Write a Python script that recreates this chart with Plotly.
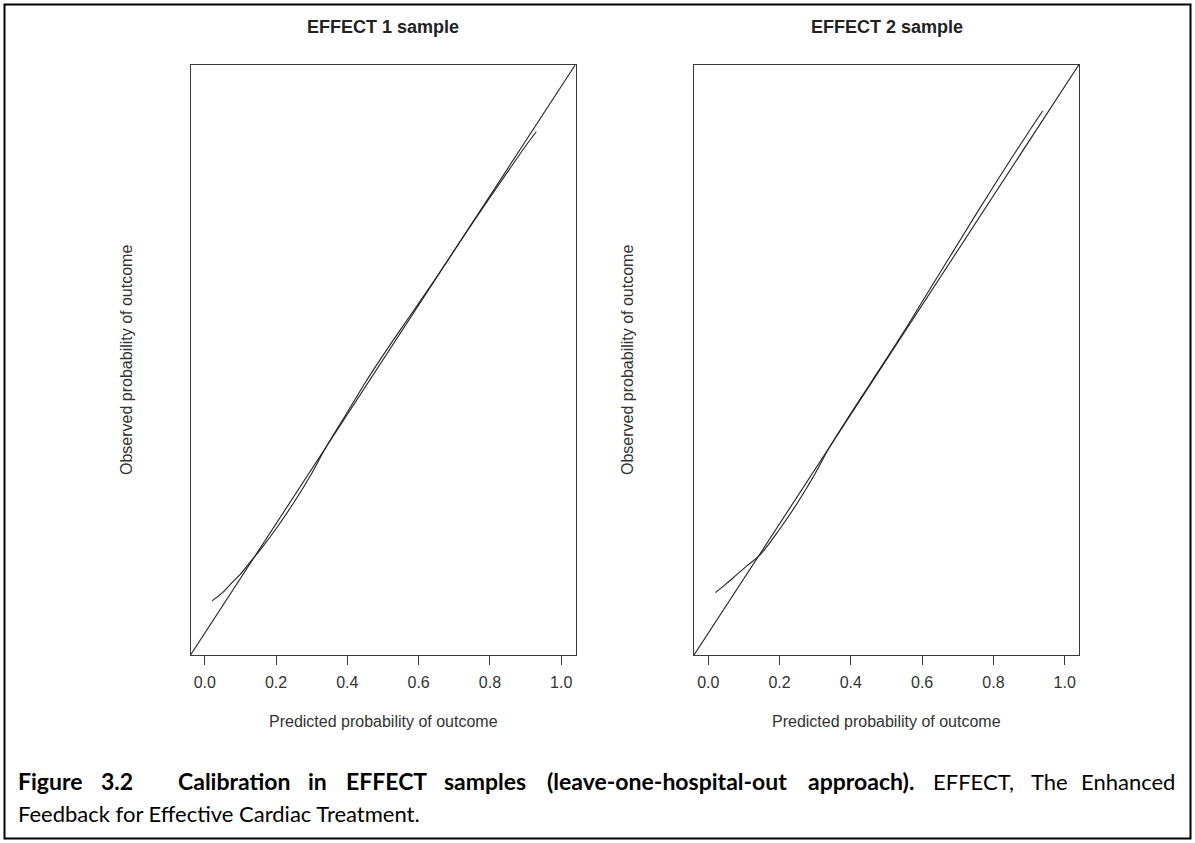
import plotly.graph_objects as go

# ---- data ----
panel_titles = ["EFFECT 1 sample", "EFFECT 2 sample"]
x_title = "Predicted probability of outcome"
y_title = "Observed probability of outcome"
tick_vals = [0.0, 0.2, 0.4, 0.6, 0.8, 1.0]
tick_text = ["0.0", "0.2", "0.4", "0.6", "0.8", "1.0"]

ref_line = [-0.04, 1.04]

pred1 = [0.02, 0.05, 0.07, 0.10, 0.13, 0.16, 0.20, 0.25, 0.30, 0.34, 0.40, 0.45, 0.50,
         0.55, 0.60, 0.65, 0.70, 0.75, 0.80, 0.85, 0.90, 0.93]
obs1 = [0.059, 0.074, 0.088, 0.108, 0.132, 0.156, 0.191, 0.239, 0.292, 0.340, 0.404, 0.458, 0.508,
        0.556, 0.603, 0.651, 0.700, 0.749, 0.797, 0.844, 0.891, 0.917]

pred2 = [0.02, 0.05, 0.08, 0.11, 0.145, 0.20, 0.25, 0.30, 0.34, 0.40, 0.45, 0.50,
         0.55, 0.60, 0.65, 0.70, 0.75, 0.80, 0.85, 0.90, 0.938]
obs2 = [0.074, 0.090, 0.107, 0.124, 0.143, 0.190, 0.238, 0.292, 0.340, 0.402, 0.452, 0.502,
        0.553, 0.606, 0.659, 0.712, 0.765, 0.817, 0.868, 0.918, 0.955]

caption_bold_words = ["Figure", "3.2", "Calibration", "in", "EFFECT", "samples",
                      "(leave-one-hospital-out", "approach)."]
caption_normal_words = ["EFFECT,", "The", "Enhanced"]
caption_line2 = "Feedback for Effective Cardiac Treatment."

W, H = 1195, 843

def px(x):
    return x / W

def py(y):
    return 1 - y / H

x_domains = [[px(190.5), px(575.5)], [px(694), px(1079)]]
y_domain = [py(655), py(64.5)]

fig = go.Figure()
line_col = "#222222"
box_col = "#3a3a3a"

curves = [(pred1, obs1), (pred2, obs2)]
for i, (pr, ob) in enumerate(curves):
    xa = "x" if i == 0 else "x2"
    ya = "y" if i == 0 else "y2"
    fig.add_trace(go.Scatter(x=ref_line, y=ref_line, mode="lines",
                             line=dict(color=line_col, width=1.1),
                             xaxis=xa, yaxis=ya, showlegend=False, hoverinfo="skip"))
    fig.add_trace(go.Scatter(x=pr, y=ob, mode="lines", line_shape="spline",
                             line=dict(color=line_col, width=1.1),
                             xaxis=xa, yaxis=ya, showlegend=False))

axis_common = dict(range=[-0.04, 1.04], showgrid=False, zeroline=False,
                   showline=True, mirror=True, linecolor=box_col, linewidth=1.2)
for i in range(2):
    suffix = "" if i == 0 else "2"
    fig.update_layout(**{
        "xaxis" + suffix: dict(axis_common, domain=x_domains[i], anchor="y" + suffix,
                               ticks="outside", ticklen=9, tickwidth=1.2, tickcolor=box_col,
                               tickvals=tick_vals, ticktext=tick_text,
                               ticklabelstandoff=4,
                               tickfont=dict(family="Liberation Sans", size=16, color="#333333")),
        "yaxis" + suffix: dict(axis_common, domain=y_domain, anchor="x" + suffix,
                               showticklabels=False, ticks=""),
    })

annotations = []
centers = [(190.5 + 575.5) / 2, (694 + 1079) / 2]
ytitle_x = [127, 628]
for i in range(2):
    annotations.append(dict(text="<b>" + panel_titles[i] + "</b>", x=px(centers[i]), y=py(27),
                            xref="paper", yref="paper", showarrow=False,
                            xanchor="center", yanchor="middle",
                            font=dict(family="Liberation Sans", size=18, color="#222222")))
    annotations.append(dict(text=x_title, x=px(centers[i]), y=py(721),
                            xref="paper", yref="paper", showarrow=False,
                            xanchor="center", yanchor="middle",
                            font=dict(family="Liberation Sans", size=16, color="#333333")))
    annotations.append(dict(text=y_title, x=px(ytitle_x[i]), y=py(360), textangle=-90,
                            xref="paper", yref="paper", showarrow=False,
                            xanchor="center", yanchor="middle",
                            font=dict(family="Liberation Sans", size=16, color="#333333")))

# caption (justified first line: word positions)
bold_x = [16, 99, 176, 306, 344, 442, 545, 806]
normal_x = [931, 1029]
bold_font = dict(family="Lato", size=23, color="#000000")
norm_font = dict(family="Lato", size=22, color="#000000")
for w, xx in zip(caption_bold_words, bold_x):
    annotations.append(dict(text="<b>" + w + "</b>", x=px(xx), y=py(781), xref="paper", yref="paper",
                            showarrow=False, xanchor="left", yanchor="middle", font=bold_font))
for w, xx in zip(caption_normal_words[:2], normal_x):
    annotations.append(dict(text=w, x=px(xx), y=py(781), xref="paper", yref="paper",
                            showarrow=False, xanchor="left", yanchor="middle", font=norm_font))
annotations.append(dict(text=caption_normal_words[2], x=px(1177), y=py(781), xref="paper", yref="paper",
                        showarrow=False, xanchor="right", yanchor="middle", font=norm_font))
annotations.append(dict(text=caption_line2, x=px(16), y=py(813), xref="paper", yref="paper",
                        showarrow=False, xanchor="left", yanchor="middle", font=norm_font))

fig.update_layout(
    width=W, height=H, margin=dict(l=0, r=0, t=0, b=0),
    paper_bgcolor="white", plot_bgcolor="white",
    annotations=annotations,
    shapes=[dict(type="rect", xref="paper", yref="paper",
                 x0=px(4.5), x1=px(1190.5), y0=py(838.5), y1=py(4.5),
                 line=dict(color="black", width=2))],
)

fig.write_html("out.html")
